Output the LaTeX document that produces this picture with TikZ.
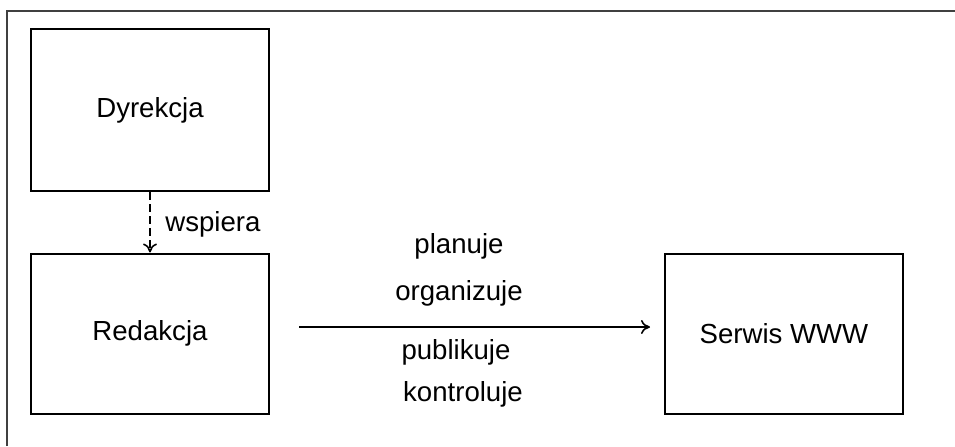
\documentclass[tikz,border=0pt]{standalone}
\usepackage{fontspec}
\setmainfont{Liberation Sans}
\usetikzlibrary{arrows.meta}
\begin{document}
\begin{tikzpicture}[
  x=0.5pt, y=-0.5pt,
  font=\fontsize{13.8}{16}\selectfont,
  unit/.style={draw, line width=1pt, minimum width=119pt, minimum height=80pt, inner sep=0pt},
  flow/.style={line width=0.8pt, -{To[length=4.5pt, width=7pt]}},
  support/.style={flow, dash pattern=on 4pt off 2pt},
  verb/.style={inner sep=1pt}
]
\useasboundingbox (0,0) rectangle (955,446);

% Frame
\draw[black!75, line width=0.8pt] (7,446) -- (7,11) -- (955,11);

% Units
\node[unit, minimum height=81pt] (dyr) at (150,110) {Dyrekcja};
\node[unit] (red) at (150,333.5) {Redakcja};
\node[unit] (www) at (784,333.5) {Serwis WWW};

% Support
\draw[support] (dyr.south) -- (red.north);
\node[verb, anchor=west] (wsp) at (163,224) {wspiera};

% Main flow
\coordinate (start) at (299,327);
\coordinate (end) at (650,327);
\draw[flow] (start) -- (end);
\node[verb] (plan) at (459,246) {planuje};
\node[verb] (org) at (459,293) {organizuje};
\node[verb] (pub) at (456,352) {publikuje};
\node[verb] (kon) at (463,394) {kontroluje};
\end{tikzpicture}
\end{document}
